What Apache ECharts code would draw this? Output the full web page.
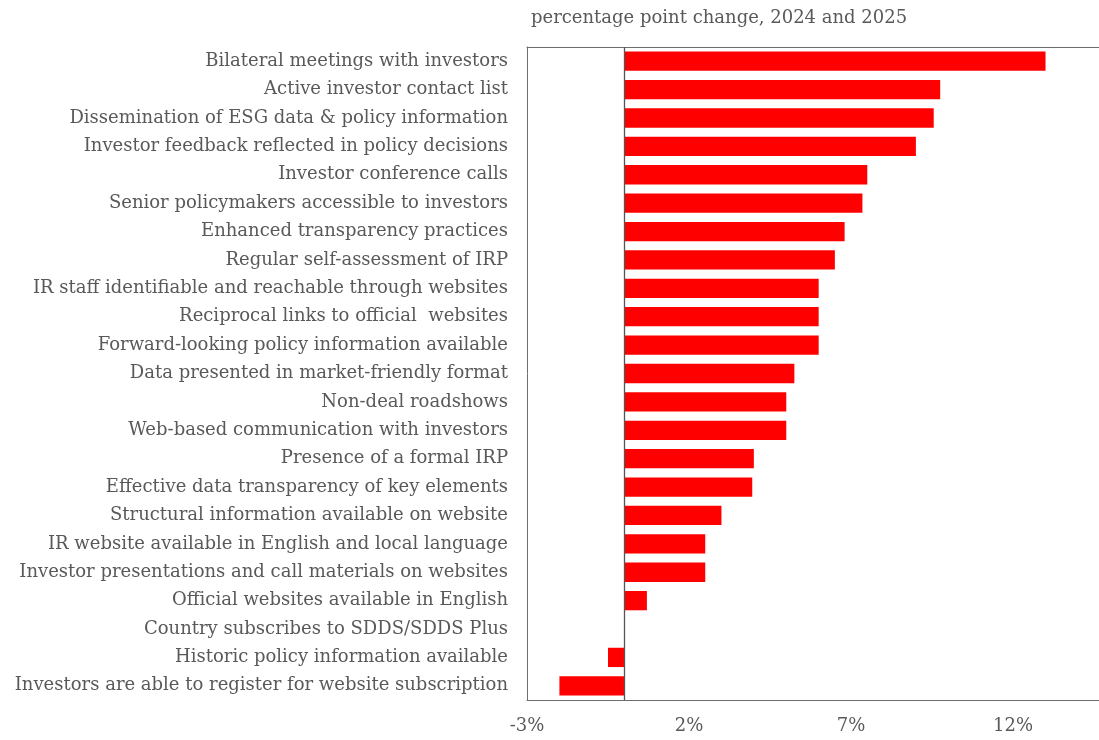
<!DOCTYPE html>
<html>
<head>
<meta charset="utf-8">
<script src="https://cdn.jsdelivr.net/npm/echarts@6/dist/echarts.min.js"></script>
<style>html,body{margin:0;padding:0;background:#fff}#c{width:1099px;height:740px}</style>
</head>
<body>
<div id="c"></div>
<script>
const categories = [
  "Bilateral meetings with investors",
  "Active investor contact list",
  "Dissemination of ESG data & policy information",
  "Investor feedback reflected in policy decisions",
  "Investor conference calls",
  "Senior policymakers accessible to investors",
  "Enhanced transparency practices",
  "Regular self-assessment of IRP",
  "IR staff identifiable and reachable through websites",
  "Reciprocal links to official  websites",
  "Forward-looking policy information available",
  "Data presented in market-friendly format",
  "Non-deal roadshows",
  "Web-based communication with investors",
  "Presence of a formal IRP",
  "Effective data transparency of key elements",
  "Structural information available on website",
  "IR website available in English and local language",
  "Investor presentations and call materials on websites",
  "Official websites available in English",
  "Country subscribes to SDDS/SDDS Plus",
  "Historic policy information available",
  "Investors are able to register for website subscription"
];
const values = [13.0, 9.75, 9.55, 9.0, 7.5, 7.35, 6.8, 6.5, 6.0, 6.0, 6.0, 5.25, 5.0, 5.0, 4.0, 3.95, 3.0, 2.5, 2.5, 0.7, 0, -0.5, -2.0];
const xTicks = { min: -3, max: 14.65, interval: 5 };
const titleText = "percentage point change, 2024 and 2025";

const chart = echarts.init(document.getElementById('c'), null, { renderer: 'canvas' });
const font = "'DejaVu Serif', serif";
const lineCol = '#6e6e6e';
chart.setOption({
  animation: false,
  title: {
    text: titleText,
    left: 526, top: 4,
    textStyle: { fontFamily: font, fontSize: 18, fontWeight: 'normal', color: '#595959' }
  },
  grid: { left: 527, right: 0, top: 47, bottom: 40, show: false },
  xAxis: [{
    type: 'value', min: xTicks.min, max: xTicks.max, interval: xTicks.interval, position: 'bottom',
    splitLine: { show: false }, axisTick: { show: false },
    axisLine: { show: true, onZero: false, lineStyle: { color: lineCol, width: 1 } },
    axisLabel: { formatter: v => v + '%', fontFamily: font, fontSize: 18, color: '#595959', margin: 17, showMaxLabel: false }
  }, {
    type: 'value', min: xTicks.min, max: xTicks.max, interval: xTicks.interval, position: 'top',
    splitLine: { show: false }, axisTick: { show: false }, axisLabel: { show: false },
    axisLine: { show: true, onZero: false, lineStyle: { color: lineCol, width: 1 } }
  }],
  yAxis: {
    type: 'category', data: categories, inverse: true,
    axisLine: { show: true, onZero: false, lineStyle: { color: lineCol, width: 1 } },
    axisTick: { show: false }, splitLine: { show: false },
    axisLabel: { fontFamily: font, fontSize: 18, color: '#595959', margin: 19 }
  },
  series: [{
    type: 'bar', data: values, barWidth: '68%',
    itemStyle: { color: '#ff0000' },
    markLine: {
      silent: true, symbol: 'none', label: { show: false },
      lineStyle: { color: '#555', width: 1.3, type: 'solid' },
      data: [{ xAxis: 0 }]
    }
  }]
});
</script>
</body>
</html>
